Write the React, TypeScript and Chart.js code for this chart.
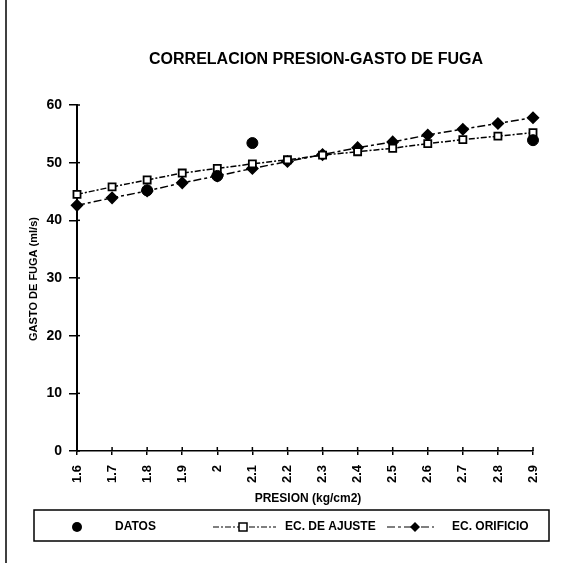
import React, { useEffect, useRef } from "react";
import { Chart, registerables } from "chart.js";

Chart.register(...registerables);

const TITLE = "CORRELACION PRESION-GASTO DE FUGA";
const X_TITLE = "PRESION (kg/cm2)";
const Y_TITLE = "GASTO DE FUGA (ml/s)";

const presion = ["1.6", "1.7", "1.8", "1.9", "2", "2.1", "2.2", "2.3", "2.4", "2.5", "2.6", "2.7", "2.8", "2.9"];

const datos: (number | null)[] = [null, null, 45.2, null, 47.7, 53.4, null, null, null, null, null, null, null, 53.9];
const ecAjuste = [44.5, 45.8, 47.0, 48.2, 49.0, 49.8, 50.5, 51.3, 51.9, 52.5, 53.3, 54.0, 54.6, 55.2];
const ecOrificio = [42.6, 43.9, 45.1, 46.5, 47.7, 49.0, 50.2, 51.4, 52.6, 53.6, 54.8, 55.8, 56.8, 57.8];

const yTicks = { min: 0, max: 60, step: 10 };

const FONT = "'Liberation Sans', Arial, sans-serif";
const AJ_DASH = [6, 2, 2, 2];
const OR_DASH = [8, 3, 3, 3];

const decorPlugin = {
  id: "decor",
  afterDraw(chart: any) {
    const ctx = chart.ctx as CanvasRenderingContext2D;
    const area = chart.chartArea;
    const xs = chart.scales.x;
    const ys = chart.scales.y;
    ctx.save();
    ctx.fillStyle = "#000";
    ctx.strokeStyle = "#000";

    // scan border line on the left
    ctx.lineWidth = 1.5;
    ctx.beginPath();
    ctx.moveTo(6, 0);
    ctx.lineTo(6, 563);
    ctx.stroke();

    // inner parts of tick marks (crossing the axes)
    ctx.lineWidth = 1.5;
    for (let i = 0; i < presion.length; i++) {
      const px = xs.getPixelForTick(i);
      ctx.beginPath();
      ctx.moveTo(px, area.bottom);
      ctx.lineTo(px, area.bottom - 4);
      ctx.stroke();
    }
    for (let v = yTicks.min; v <= yTicks.max; v += yTicks.step) {
      const py = ys.getPixelForValue(v);
      ctx.beginPath();
      ctx.moveTo(area.left, py);
      ctx.lineTo(area.left + 3, py);
      ctx.stroke();
    }

    // title
    ctx.font = `bold 16px ${FONT}`;
    ctx.textAlign = "center";
    ctx.textBaseline = "middle";
    ctx.fillText(TITLE, 316, 60);

    // x title
    ctx.font = `bold 12px ${FONT}`;
    ctx.fillText(X_TITLE, 308, 499);

    // y title
    ctx.font = `bold 11px ${FONT}`;
    ctx.save();
    ctx.translate(34, 279);
    ctx.rotate(-Math.PI / 2);
    ctx.fillText(Y_TITLE, 0, 0);
    ctx.restore();

    // legend box
    ctx.lineWidth = 1.5;
    ctx.strokeRect(34, 510, 515, 31);

    const ds = chart.data.datasets;
    const ly = 527;
    ctx.font = `bold 12px ${FONT}`;
    ctx.textAlign = "left";

    // DATOS
    ctx.beginPath();
    ctx.arc(77, ly, 5, 0, Math.PI * 2);
    ctx.fill();
    ctx.fillText(ds[0].label, 115, ly);

    // EC. DE AJUSTE
    ctx.lineWidth = 1.2;
    ctx.setLineDash(AJ_DASH);
    ctx.beginPath();
    ctx.moveTo(213, ly);
    ctx.lineTo(276, ly);
    ctx.stroke();
    ctx.setLineDash([]);
    ctx.fillStyle = "#fff";
    ctx.fillRect(239, ly - 4, 8, 8);
    ctx.fillStyle = "#000";
    ctx.lineWidth = 1.5;
    ctx.strokeRect(239, ly - 4, 8, 8);
    ctx.fillText(ds[1].label, 285, ly);

    // EC. ORIFICIO
    ctx.lineWidth = 1.2;
    ctx.setLineDash(OR_DASH);
    ctx.beginPath();
    ctx.moveTo(387, ly);
    ctx.lineTo(434, ly);
    ctx.stroke();
    ctx.setLineDash([]);
    ctx.beginPath();
    ctx.moveTo(415, ly - 5);
    ctx.lineTo(420, ly);
    ctx.lineTo(415, ly + 5);
    ctx.lineTo(410, ly);
    ctx.closePath();
    ctx.fill();
    ctx.fillText(ds[2].label, 452, ly);

    ctx.restore();
  },
};

export default function App() {
  const ref = useRef<HTMLCanvasElement>(null);

  useEffect(() => {
    if (!ref.current) return;
    const chart = new Chart(ref.current, {
      type: "line",
      data: {
        labels: presion,
        datasets: [
          {
            label: "DATOS",
            data: datos,
            showLine: false,
            pointStyle: "circle",
            pointRadius: 5.5,
            pointBackgroundColor: "#000",
            pointBorderColor: "#000",
            borderColor: "#000",
            backgroundColor: "#000",
          },
          {
            label: "EC. DE AJUSTE",
            data: ecAjuste,
            borderColor: "#000",
            borderWidth: 1.5,
            borderDash: AJ_DASH,
            pointStyle: "rect",
            pointRadius: 5,
            pointBorderWidth: 1.8,
            pointBackgroundColor: "#fff",
            pointBorderColor: "#000",
            backgroundColor: "#fff",
            tension: 0,
          },
          {
            label: "EC. ORIFICIO",
            data: ecOrificio,
            borderColor: "#000",
            borderWidth: 1.5,
            borderDash: OR_DASH,
            pointStyle: "rectRot",
            pointRadius: 5.5,
            pointBackgroundColor: "#000",
            pointBorderColor: "#000",
            backgroundColor: "#000",
            tension: 0,
          },
        ],
      },
      options: {
        responsive: false,
        animation: false,
        events: [],
        layout: { padding: { left: 0, right: 36, top: 105, bottom: 52 } },
        plugins: {
          legend: { display: false },
          title: { display: false },
          tooltip: { enabled: false },
        },
        scales: {
          x: {
            type: "category",
            offset: false,
            grid: { drawOnChartArea: false, drawTicks: true, tickLength: 4, color: "#000", lineWidth: 1.5 },
            border: { color: "#000", width: 1.5 },
            ticks: {
              color: "#000",
              font: { family: FONT, size: 13, weight: "bold" },
              minRotation: 90,
              maxRotation: 90,
              autoSkip: false,
              padding: 10,
            },
            afterFit: (s: any) => {
              s.height = 60;
            },
          },
          y: {
            min: yTicks.min,
            max: yTicks.max,
            grid: { drawOnChartArea: false, drawTicks: true, tickLength: 8, color: "#000", lineWidth: 1.5 },
            border: { color: "#000", width: 2 },
            ticks: {
              stepSize: yTicks.step,
              color: "#000",
              font: { family: FONT, size: 14, weight: "bold" },
              padding: 7,
            },
            afterFit: (s: any) => {
              s.width = 77;
            },
          },
        },
      },
      plugins: [decorPlugin],
    });
    return () => chart.destroy();
  }, []);

  return (
    <div style={{ position: "absolute", left: 0, top: 0, width: 569, height: 563, background: "#fff" }}>
      <canvas ref={ref} width={569} height={563} />
    </div>
  );
}
